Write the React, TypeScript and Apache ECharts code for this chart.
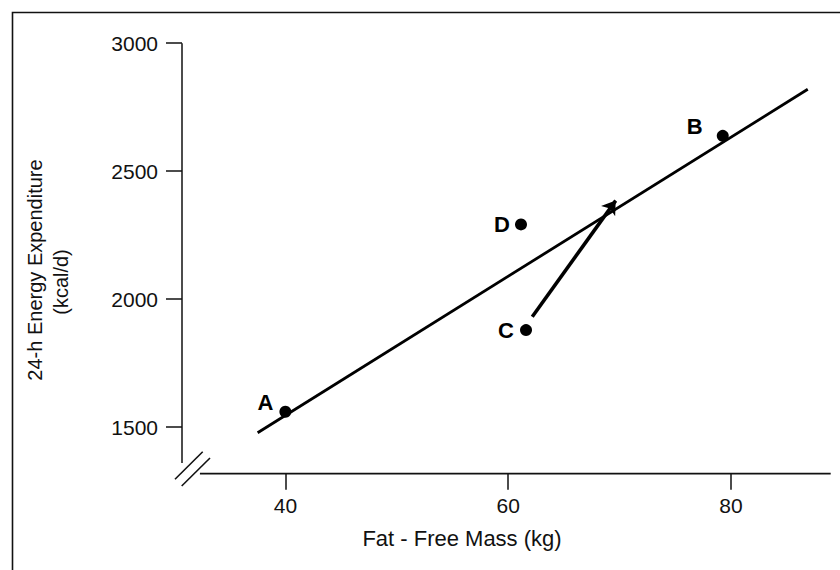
import React, { useEffect, useRef } from "react";
import * as echarts from "echarts";

// Axis tick values
const xTicks = [40, 60, 80];
const yTicks = [1500, 2000, 2500, 3000];

// Axis extents (data units)
const xRange = [30.72, 88.95];
const yRange = [1318, 3000];
const yAxisLineStart = 1359.8; // y axis line stops above the break
const xAxisLineStart = 32.33; // x axis line starts right of the break

// Labelled subjects
const pointLabels = ["A", "B", "C", "D"];
const pointX = [40.0, 79.26, 61.6, 61.15];
const pointY = [1560, 2638, 1879, 2292];

// Regression line end points
const fitX = [37.51, 86.89];
const fitY = [1478, 2820];

// Arrow (C moving towards the line)
const arrowX = [62.16, 69.65];
const arrowY = [1931, 2385];

const labelOffsets: Record<string, [number, number]> = {
  A: [-20, -9],
  B: [-28, -9],
  C: [-20, 0],
  D: [-19, 0],
};

const FONT = "'Liberation Sans', Arial, Helvetica, sans-serif";
const INK = "#111";

export default function App() {
  const ref = useRef<HTMLDivElement>(null);
  useEffect(() => {
    if (!ref.current) return;
    const chart = echarts.init(ref.current, undefined, { renderer: "svg" });
    const option: any = {
      animation: false,
      backgroundColor: "#fff",
      grid: {
        left: 182,
        right: 9.3,
        top: 43.18,
        bottom: 96.3,
        containLabel: false,
        outerBoundsMode: "none",
      },
      xAxis: {
        type: "value",
        min: xRange[0],
        max: xRange[1],
        axisLine: { show: false },
        splitLine: { show: false },
        axisTick: {
          show: true,
          length: 16,
          customValues: xTicks,
          lineStyle: { color: INK, width: 1.5 },
        },
        axisLabel: {
          customValues: xTicks,
          formatter: (v: number) => String(v),
          margin: 21,
          color: INK,
          fontSize: 21,
          fontFamily: FONT,
        },
      },
      yAxis: {
        type: "value",
        min: yRange[0],
        max: yRange[1],
        axisLine: { show: false },
        splitLine: { show: false },
        axisTick: {
          show: true,
          length: 16,
          customValues: yTicks,
          lineStyle: { color: INK, width: 1.5 },
        },
        axisLabel: {
          customValues: yTicks,
          formatter: (v: number) => String(v),
          margin: 24,
          color: INK,
          fontSize: 21,
          fontFamily: FONT,
        },
      },
      series: [
        {
          // y axis line
          type: "line",
          clip: false,
          silent: true,
          symbol: "none",
          data: [
            [xRange[0], yAxisLineStart],
            [xRange[0], yRange[1]],
          ],
          lineStyle: { color: INK, width: 1.5 },
        },
        {
          // x axis line
          type: "line",
          clip: false,
          silent: true,
          symbol: "none",
          data: [
            [xAxisLineStart, yRange[0]],
            [xRange[1], yRange[0]],
          ],
          lineStyle: { color: INK, width: 1.8 },
        },
        {
          type: "line",
          clip: false,
          silent: true,
          symbol: "none",
          data: fitX.map((x, i) => [x, fitY[i]]),
          lineStyle: { color: "#000", width: 2.8 },
        },
        {
          type: "lines",
          coordinateSystem: "cartesian2d",
          silent: true,
          symbol: ["none", "arrow"],
          symbolSize: 13,
          data: [
            {
              coords: [
                [arrowX[0], arrowY[0]],
                [arrowX[1], arrowY[1]],
              ],
            },
          ],
          lineStyle: { color: "#000", width: 3.6, opacity: 1 },
        },
        {
          type: "scatter",
          symbol: "circle",
          symbolSize: 12,
          silent: true,
          itemStyle: { color: "#000", opacity: 1 },
          data: pointLabels.map((name, i) => ({
            name,
            value: [pointX[i], pointY[i]],
            label: {
              show: true,
              position: "inside",
              offset: labelOffsets[name],
              formatter: name,
              color: "#000",
              fontSize: 22,
              fontWeight: "bold",
              fontFamily: FONT,
              align: "center",
              verticalAlign: "middle",
            },
          })),
        },
      ],
      graphic: [
        {
          type: "rect",
          shape: { x: 12.5, y: 12.5, width: 2000, height: 2000 },
          style: { fill: "none", stroke: INK, lineWidth: 1.6 },
          silent: true,
        },
        {
          type: "line",
          shape: { x1: 175, y1: 479.3, x2: 202.7, y2: 451.7 },
          style: { stroke: INK, lineWidth: 1.6 },
        },
        {
          type: "line",
          shape: { x1: 181.7, y1: 486, x2: 210, y2: 458 },
          style: { stroke: INK, lineWidth: 1.6 },
        },
        {
          type: "text",
          x: 462,
          y: 538,
          style: {
            text: "Fat - Free Mass (kg)",
            font: `22px ${FONT}`,
            fill: INK,
            align: "center",
            verticalAlign: "middle",
          },
        },
        {
          type: "text",
          x: 35,
          y: 270,
          rotation: Math.PI / 2,
          style: {
            text: "24-h Energy Expenditure",
            font: `20px ${FONT}`,
            fill: INK,
            align: "center",
            verticalAlign: "middle",
          },
        },
        {
          type: "text",
          x: 61,
          y: 282,
          rotation: Math.PI / 2,
          style: {
            text: "(kcal/d)",
            font: `20px ${FONT}`,
            fill: INK,
            align: "center",
            verticalAlign: "middle",
          },
        },
      ],
    };
    chart.setOption(option);
    return () => chart.dispose();
  }, []);
  return (
    <div
      ref={ref}
      style={{ position: "absolute", left: 0, top: 0, width: 840, height: 570 }}
    />
  );
}
